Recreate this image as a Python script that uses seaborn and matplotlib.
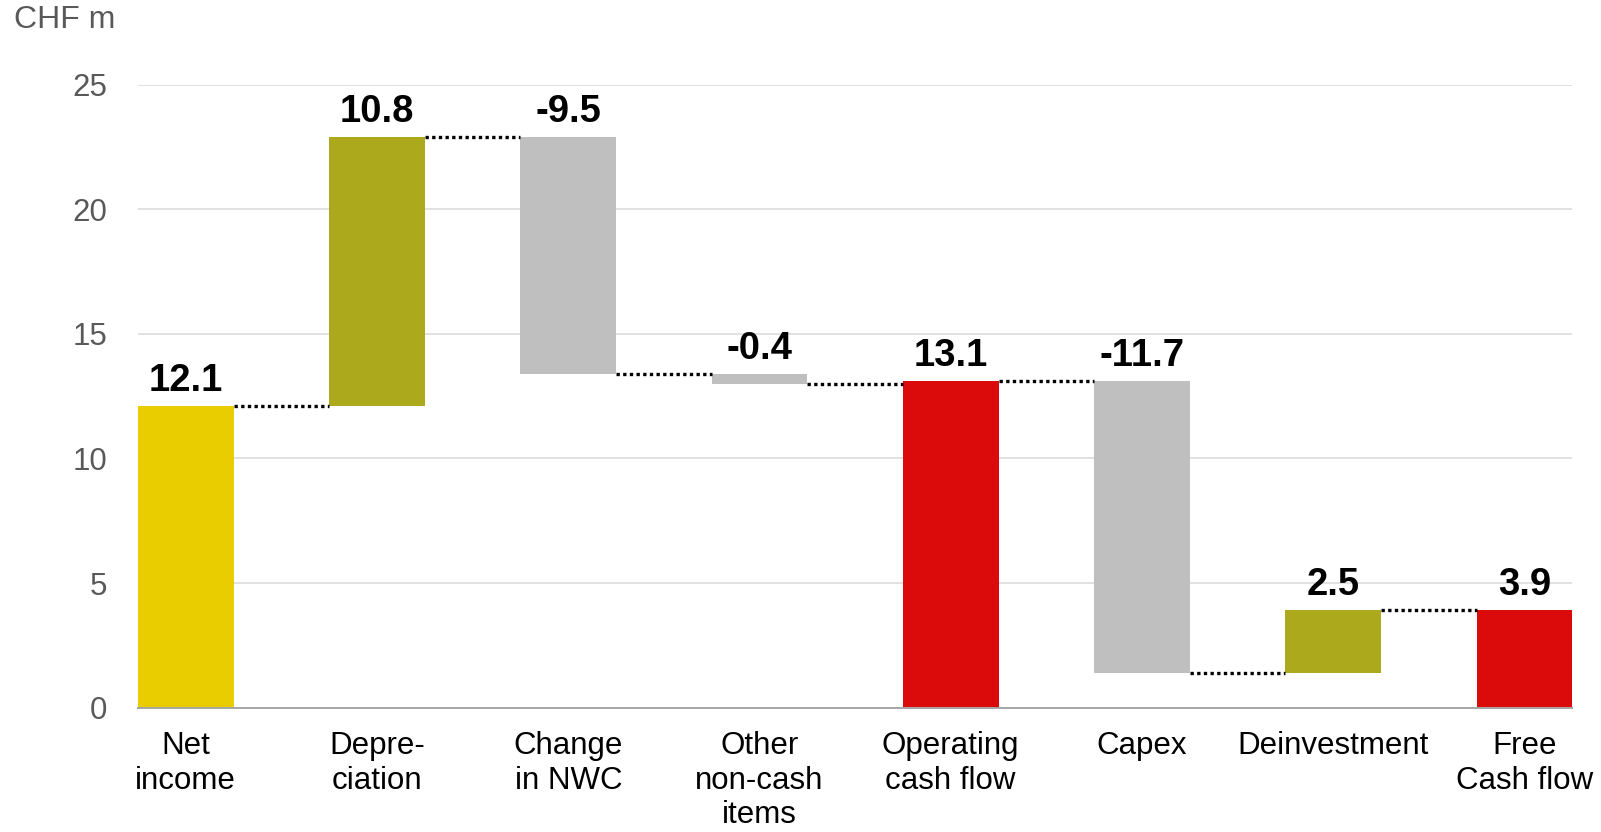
import matplotlib
matplotlib.use("Agg")
import matplotlib.pyplot as plt
import seaborn as sns
import pandas as pd

# Cash flow bridge, CHF m
categories = ["Net\nincome", "Depre-\nciation", "Change\nin NWC", "Other\nnon-cash\nitems",
              "Operating\ncash flow", "Capex", "Deinvestment", "Free\nCash flow"]
values = [12.1, 10.8, -9.5, -0.4, 13.1, -11.7, 2.5, 3.9]
is_total = [True, False, False, False, True, False, False, True]
value_labels = ["12.1", "10.8", "-9.5", "-0.4", "13.1", "-11.7", "2.5", "3.9"]
bar_colors = ["#E9CD00", "#ACA91D", "#BFBFBF", "#BFBFBF",
              "#DC0B0B", "#BFBFBF", "#ACA91D", "#DC0B0B"]
y_ticks = [0, 5, 10, 15, 20, 25]
unit_label = "CHF m"

# Running start / end level of every bar
starts, ends = [], []
running = 0.0
for v, tot in zip(values, is_total):
    if tot:
        s, e = 0.0, v
    else:
        s, e = running, running + v
    running = e
    starts.append(s)
    ends.append(e)

df = pd.DataFrame({
    "item": categories,
    "height": [abs(e - s) for s, e in zip(starts, ends)],
    "bottom": [min(s, e) for s, e in zip(starts, ends)],
    "top": [max(s, e) for s, e in zip(starts, ends)],
})

sns.set_theme(style="white")
plt.rcParams["font.family"] = ["Liberation Sans", "DejaVu Sans"]

fig = plt.figure(figsize=(16.01, 8.32), dpi=100)
ax = fig.add_axes([0.0862, 0.1495, 0.8958, 0.7487])

sns.barplot(data=df, x="item", y="height", hue="item", palette=bar_colors,
            width=0.5, saturation=1, legend=False, ax=ax, linewidth=0)

# Float each bar onto its running base
for i, cont in enumerate(ax.containers):
    for patch in cont:
        patch.set_y(df["bottom"].iloc[i])

# Dotted connectors between consecutive bars
half = 0.25
for i in range(len(categories) - 1):
    ax.plot([i + half, i + 1 - half], [ends[i], ends[i]], color="black",
            linestyle=(0, (1, 1)), linewidth=2.4, solid_capstyle="butt",
            dash_capstyle="butt", zorder=3)

# Value labels above each bar
for i, lab in enumerate(value_labels):
    ax.annotate(lab, xy=(i, df["top"].iloc[i]), xytext=(0, 5),
                textcoords="offset points", ha="center", va="bottom",
                fontsize=27.5, fontweight="bold", color="black",
                annotation_clip=False)

ax.set_xlim(-0.25, len(categories) - 0.75)
ax.set_ylim(0, 25)
ax.set_yticks(y_ticks)
ax.set_yticklabels([str(t) for t in y_ticks])
ax.set_xlabel("")
ax.set_ylabel("")

ax.yaxis.grid(True, color="#D9D9D9", linewidth=1.1)
ax.xaxis.grid(False)
ax.set_axisbelow(True)

for side in ["left", "right", "top"]:
    ax.spines[side].set_visible(False)
ax.spines["bottom"].set_color("#A6A6A6")
ax.spines["bottom"].set_linewidth(1.4)

ax.tick_params(axis="y", length=0, pad=22, labelsize=22.5, labelcolor="#595959")
ax.tick_params(axis="x", length=0, pad=17, labelsize=22.5, labelcolor="black")
for t in ax.get_xticklabels():
    t.set_linespacing(1.2)
    t.set_multialignment("center")

fig.text(0.009, 0.9755, unit_label, fontsize=23, color="#595959",
         ha="left", va="center")

fig.savefig("out.png", dpi=100)
